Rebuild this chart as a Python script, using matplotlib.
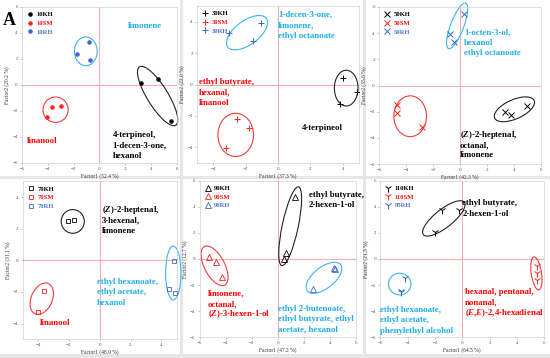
import numpy as np
import matplotlib
matplotlib.use('Agg')
import matplotlib.pyplot as plt
from matplotlib.patches import Ellipse, Rectangle

plt.rcParams['font.family'] = ['Liberation Serif', 'DejaVu Serif']
plt.rcParams['mathtext.fontset'] = 'custom'
plt.rcParams['mathtext.rm'] = 'Liberation Serif:bold'
plt.rcParams['mathtext.it'] = 'Liberation Serif:italic:bold'

# ---- data ----
legend_labels = [['10KH', '10SM', '10RH'], ['30KH', '30SM', '30RH'], ['50KH', '50SM', '50RH'],
                 ['70KH', '70SM', '70RH'], ['90KH', '90SM', '90RH'], ['110KH', '110SM', '95RH']]
factor1 = ['52.4', '37.3', '42.3', '48.9', '47.2', '64.5']
factor2 = ['20.2', '22.0', '35.6', '31.1', '12.7', '21.3']
limits = [6, 5, 6, 5, 6, 6]

kh_x = [[3.2, 4.5, 5.5], [4.02, 4.9, 3.8], [3.37, 3.76, 4.95], [-2.03, -1.66], [1.31, 0.64, 0.51], [-1.46, -0.22, -1.98]]
kh_y = [[0.13, 0.46, -2.8], [0.44, -0.5, -1.27], [-2.03, -2.28, -1.57], [2.46, 2.55], [4.72, 0.48, -0.03], [3.75, 3.75, 2.09]]
sm_x = [[-3.7, -2.97, -4.05], [-2.52, -1.79, -3.19], [-4.63, -4.68, -2.85], [-3.59, -4.02], [-5.26, -4.77, -4.31], [5.46, 5.44, 5.46]]
sm_y = [[-1.66, -1.63, -2.47], [-2.22, -2.77, -4.02], [-1.52, -2.08, -3.2], [-1.96, -3.26], [0.13, -0.26, -1.4], [-0.54, -1.1, -1.63]]
rh_x = [[-0.8, -1.78, -0.7], [-1.02, -3.04, -1.52], [0.3, -0.72, -0.47], [4.8, 4.48, 4.89], [4.3, 4.4, 2.74], [-4.2, -4.5, -4.45]]
rh_y = [[3.34, 2.37, 1.94], [3.93, 3.28, 2.75], [5.46, 3.93, 3.3], [-0.04, -1.81, -2.06], [-0.7, -0.75, -2.3], [-1.48, -2.5, -2.45]]

# confidence ellipses: (cx, cy, width, height, angle)
ell_kh = [(4.5, -0.85, 5.3, 1.6, -58), (4.21, -0.23, 1.46, 2.28, 0), (4.03, -1.82, 3.22, 1.46, 25),
          (-1.75, 2.46, 1.5, 1.5, 0), (0.96, 2.51, 6.17, 1.23, 78), (-1.35, 3.11, 3.9, 1.36, 40)]
ell_sm = [(-3.4, -1.9, 1.95, 1.95, 0), (-2.61, -3.21, 2.2, 2.75, 0), (-3.69, -2.35, 2.42, 3.12, 0),
          (-3.76, -2.43, 2.1, 1.36, 65), (-4.86, -0.52, 3.34, 1.55, -62), (5.42, -1.1, 0.75, 2.55, 8)]
ell_rh = [(-1.06, 2.59, 1.76, 2.22, 0), (-1.91, 3.3, 3.0, 1.5, 38), (-0.21, 4.56, 3.7, 0.98, 70),
          (4.78, -0.8, 1.0, 3.4, 0), (3.56, -1.44, 3.26, 1.62, 38), (-4.58, -1.92, 1.64, 1.66, 0)]

# compound annotations: (text, group, x, y)
notes = [
    [('limonene', 'RH', 2.2, 4.6), ('linanool', 'SM', -5.6, -4.2),
     ('4-terpineol,\n1-decen-3-one,\nhexanol', 'KH', 1.0, -4.6)],
    [('1-decen-3-one,\nlimonene,\nethyl octanoate', 'RH', 0.0, 3.85),
     ('ethyl butyrate,\nhexanal,\nlinanool', 'SM', -4.9, -0.44), ('4-terpineol', 'KH', 1.5, -2.68)],
    [('1-octen-3-ol,\nhexanol\nethyl octanoate', 'RH', 0.3, 3.36),
     ('($\\mathit{Z}$)-2-heptenal,\noctanal,\nlimonene', 'KH', 0.0, -4.47)],
    [('($\\mathit{Z}$)-2-heptenal,\n3-hexenal,\nlimonene', 'KH', 0.13, 2.57),
     ('ethyl hexanoate,\nethyl acetate,\nhexanol', 'RH', -0.2, -1.96), ('linanool', 'SM', -3.87, -3.92)],
    [('ethyl butyrate,\n2-hexen-1-ol', 'KH', 2.38, 4.62),
     ('limonene,\noctanal,\n($\\mathit{Z}$)-3-hexen-1-ol', 'SM', -5.38, -3.37),
     ('ethyl 2-butenoate,\nethyl butyrate, ethyl\nacetate, hexanol', 'RH', 0.0, -4.54)],
    [('ethyl butyrate,\n2-hexen-1-ol', 'KH', 0.0, 3.95),
     ('hexanal, pentanal,\nnonanal,\n($\\mathit{E}$,$\\mathit{E}$)-2,4-hexadienal', 'SM', 0.2, -3.27),
     ('ethyl hexanoate,\nethyl acetate,\nphenylethyl alcohol', 'RH', -6.0, -4.6)],
]

markers = ['o', '+', 'x', 's', '^', '1']
msizes = [2.5, 5, 4, 3.5, 4.5, 5.5]
point_col = {'KH': 'black', 'SM': '#ff2020', 'RH': '#3a64d0'}
legend_txt = {'KH': 'black', 'SM': '#ff1010', 'RH': '#4a74c8'}
ell_col = {'KH': '#222222', 'SM': '#f03c3c', 'RH': '#3cb4ec'}
note_col = {'KH': 'black', 'SM': '#ff0000', 'RH': '#1eaee8'}
line_h = 7.5  # points between note lines

W, H = 550, 358
# axes boxes in pixels (left, top, right, bottom)
boxes = [(22, 7, 177, 163), (197, 6, 359, 163), (379, 7, 541, 164),
         (22.7, 181.3, 176.7, 339.3), (199.7, 180.7, 355.7, 337.3), (380.3, 180.7, 544.3, 337.3)]
cells = [(0, 0, 180, 176), (183, 0, 363, 176), (366, 0, 550, 176),
         (0, 179, 180, 354), (183, 179, 363, 354), (366, 179, 550, 354)]

fig = plt.figure(figsize=(W / 100, H / 100), dpi=100, facecolor='#e6e6e6')
for l, t, r, b in cells:
    fig.patches.append(Rectangle((l / W, 1 - b / H), (r - l) / W, (b - t) / H,
                                 transform=fig.transFigure, facecolor='white', edgecolor='none', zorder=-5))

for i in range(6):
    l, t, r, b = boxes[i]
    ax = fig.add_axes([l / W, 1 - b / H, (r - l) / W, (b - t) / H])
    lim = limits[i]
    ax.set_xlim(-lim, lim)
    ax.set_ylim(-lim, lim)
    ticks = np.arange(-lim, lim + 1, 2) if lim == 6 else np.arange(-4, 5, 2)
    ax.set_xticks(ticks)
    ax.set_yticks(ticks)
    ax.tick_params(labelsize=3.6, length=1.5, width=0.4, pad=1.5, colors='#9a9a9a', labelcolor='#555555')
    for s in ax.spines.values():
        s.set_color('#d0d0d0')
        s.set_linewidth(0.5)
    ax.axhline(0, color='#f7b0b0', lw=0.8, zorder=1)
    ax.axvline(0, color='#f7b0b0', lw=0.8, zorder=1)

    series = [('KH', kh_x[i], kh_y[i]), ('SM', sm_x[i], sm_y[i]), ('RH', rh_x[i], rh_y[i])]
    for j, (g, xs, ys) in enumerate(series):
        c = point_col[g]
        if markers[i] in ('s', '^'):
            ax.plot(xs, ys, ls='none', marker=markers[i], ms=msizes[i], mfc='none', mec=c, mew=0.6,
                    label=legend_labels[i][j], zorder=3)
        else:
            ax.plot(xs, ys, ls='none', marker=markers[i], ms=msizes[i], color=c, mew=0.7,
                    label=legend_labels[i][j], zorder=3)

    for g, ell in (('KH', ell_kh[i]), ('SM', ell_sm[i]), ('RH', ell_rh[i])):
        cx, cy, w, h, a = ell
        ax.add_patch(Ellipse((cx, cy), w, h, angle=a, fill=False, ec=ell_col[g], lw=0.8, clip_on=False, zorder=2))

    # one text per line so lines with italic parts keep the same spacing
    for txt, g, x, y in notes[i]:
        lines = txt.split('\n')
        n = len(lines)
        for k, line in enumerate(lines):
            dy = ((n - 1) / 2 - k) * line_h - 2.2
            ax.annotate(line, (x, y), xytext=(0, dy), textcoords='offset points',
                        color=note_col[g], fontsize=6.3, fontweight='bold', ha='left', va='baseline',
                        zorder=4, annotation_clip=False)

    ax.legend(loc='upper left', frameon=False, handlelength=1.0, handletextpad=0.5,
              labelspacing=0.45, borderaxespad=0.3, markerscale=1.0,
              labelcolor=[legend_txt[g] for g in ('KH', 'SM', 'RH')],
              prop={'family': 'Liberation Serif', 'weight': 'bold', 'size': 4.8})

    ax.set_xlabel('Factor1 (' + factor1[i] + ' %)', fontsize=4, labelpad=1.5, color='#333333')
    ax.set_ylabel('Factor2 (' + factor2[i] + ' %)', fontsize=4, labelpad=1.5, color='#333333')

fig.text(3 / W, 1 - 25 / H, 'A', fontsize=13, fontweight='bold', va='baseline', ha='left')

plt.savefig('out.png', dpi=100, facecolor=fig.get_facecolor())
plt.close()
